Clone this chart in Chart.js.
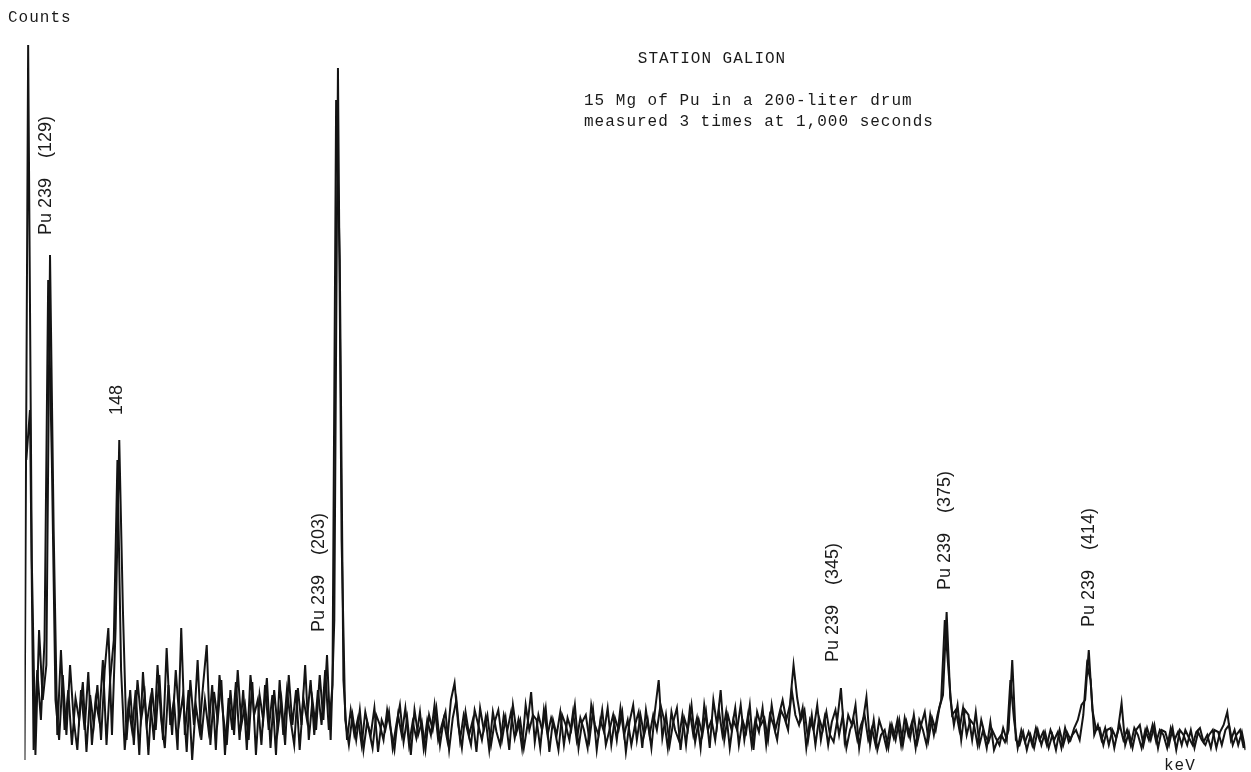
<!DOCTYPE html>
<html>
<head>
<meta charset="utf-8">
<title>Station Galion</title>
<script src="https://cdn.jsdelivr.net/npm/chart.js@4"></script>
<style>
html,body{margin:0;padding:0;background:#fff;}
#wrap{position:relative;width:1251px;height:772px;}
</style>
</head>
<body>
<div id="wrap"><canvas id="spec"></canvas></div>
<script>
// ══════════════════════════════════════════
// DADOS DO ESPECTRO (1 keV por canal, duas passagens sobrepostas)
// ══════════════════════════════════════════
const kevStart1=122, kevStart2=122.5;
const counts1=[
  0,715,200,5,130,60,95,505,230,25,
  110,30,70,15,62,40,78,8,65,35,
  75,20,90,132,25,132,320,150,20,70,
  15,80,40,65,5,72,30,85,20,112,
  35,60,10,132,25,70,0,55,30,75,
  115,15,68,40,80,5,62,30,78,20,
  70,10,85,45,60,15,75,30,65,5,
  80,25,70,40,15,72,35,95,20,60,
  30,85,40,105,20,140,692,220,40,15,
  45,20,50,10,38,25,52,8,40,30,
  48,12,35,55,18,42,5,50,25,38,
  10,45,30,52,15,40,20,60,77,35,
  12,48,25,40,8,52,30,45,15,38,
  50,20,42,10,55,28,40,12,35,68,
  18,45,30,52,8,40,25,48,15,42,
  30,55,12,38,45,20,50,10,40,28,
  52,15,42,30,48,8,38,55,20,45,
  25,40,12,50,80,22,45,15,38,52,
  10,42,30,55,18,40,25,48,12,60,
  35,70,20,45,30,52,15,40,28,55,
  10,48,35,42,20,55,30,45,60,40,
  55,95,62,40,50,20,45,15,42,30,
  48,25,18,40,72,20,45,35,55,12,
  38,63,15,40,10,25,30,12,35,20,
  40,15,38,22,45,18,35,48,20,42,
  30,52,65,148,62,35,55,20,50,45,
  20,48,15,30,12,38,10,20,25,18,
  30,100,20,15,28,10,25,12,30,15,
  28,12,25,10,30,15,28,20,32,40,
  55,60,110,50,30,32,15,30,32,12,
  30,57,15,28,12,30,35,15,32,20,
  35,12,30,28,15,32,10,30,25,15,
  30,12,28,20,15,25,30,12,28,35,
  48,20,30,15,28,10
];
const counts2=[
  300,350,10,90,40,120,480,300,60,20,
  85,25,95,40,10,70,30,88,15,60,
  40,100,15,80,120,300,90,10,55,30,
  70,5,88,35,60,20,95,40,12,75,
  25,90,40,65,8,80,35,100,20,60,
  30,75,10,85,45,15,70,25,90,35,
  55,20,78,5,65,40,82,12,70,30,
  60,15,85,35,70,10,62,40,80,25,
  70,35,90,30,75,660,500,80,20,50,
  25,42,15,48,30,12,45,35,20,50,
  30,10,45,25,52,15,38,22,48,12,
  40,25,55,20,35,48,10,42,60,20,
  45,30,15,50,35,20,42,10,48,28,
  15,45,30,48,22,40,12,55,30,45,
  40,12,50,25,42,30,10,45,35,20,
  48,20,42,30,12,55,35,25,50,15,
  30,45,20,52,25,40,15,35,48,12,
  50,25,45,30,55,40,12,48,30,20,
  45,15,50,25,42,12,55,30,40,20,
  50,25,48,12,40,30,55,20,45,15,
  40,28,52,15,45,35,20,50,42,30,
  70,45,35,52,12,40,30,55,20,42,
  15,38,50,25,45,12,30,40,20,35,
  45,20,32,15,40,28,12,35,22,40,
  15,42,25,38,12,40,30,15,45,25,
  45,60,140,90,45,50,30,52,25,40,
  35,15,40,25,18,30,22,15,32,20,
  80,40,12,30,18,28,15,32,20,28,
  15,30,20,28,12,32,18,25,30,20,
  45,95,80,25,35,20,32,15,30,22,
  35,20,30,15,32,25,12,30,20,35,
  18,30,25,12,32,20,28,15,30,22,
  15,28,32,18,25,12,30,28,15,30,
  35,15,25,30,12
];

// rótulos de pico (texto, keV, contagem onde o texto termina em baixo)
const peakLabels=['Pu 239    (129)','148','Pu 239    (203)','Pu 239    (345)','Pu 239    (375)','Pu 239    (414)'];
const peakKev=[127.9,147.4,202.8,343.8,374.5,414.2];
const peakBase=[525,345,128,98,170,133];

const titleLines=['STATION GALION','15 Mg of Pu in a 200-liter drum','measured 3 times at 1,000 seconds'];
const yAxisLabel='Counts', xAxisLabel='keV';

const pts=(start,arr)=>arr.map((v,i)=>({x:start+i,y:v}));

// ══════════════════════════════════════════
// TEXTOS SOBRE O GRÁFICO
// ══════════════════════════════════════════
const textPlugin={
  id:'textos',
  afterDatasetsDraw(chart){
    const c=chart.ctx,sx=chart.scales.x,sy=chart.scales.y;
    c.save();
    c.fillStyle='#1a1a1a';
    c.font='16px "Liberation Mono", monospace';
    c.letterSpacing='1px';
    c.textBaseline='alphabetic';
    c.textAlign='left';
    c.fillText(yAxisLabel,8,22);
    c.fillText(xAxisLabel,1164,770);
    c.textAlign='center';
    c.fillText(titleLines[0],712,63);
    c.textAlign='left';
    c.fillText(titleLines[1],584,105);
    c.fillText(titleLines[2],584,126);
    // rótulos verticais
    c.font='18px "Liberation Sans", Arial, sans-serif';
    c.letterSpacing='0px';
    c.textBaseline='middle';
    peakLabels.forEach((t,i)=>{
      c.save();
      c.translate(sx.getPixelForValue(peakKev[i]),sy.getPixelForValue(peakBase[i]));
      c.rotate(-Math.PI/2);
      c.textAlign='left';
      c.fillText(t,0,0);
      c.restore();
    });
    c.restore();
  }
};

const lineStyle={borderColor:'#141414',borderWidth:2,pointRadius:0,fill:false,tension:0};

new Chart(document.getElementById('spec'),{
  type:'line',
  data:{datasets:[
    {data:pts(kevStart1,counts1),...lineStyle},
    {data:pts(kevStart2,counts2),...lineStyle}
  ]},
  options:{responsive:true,maintainAspectRatio:false,animation:false,
    layout:{padding:{left:24.5,right:5.5,top:40,bottom:12}},
    plugins:{legend:{display:false},tooltip:{enabled:false}},
    scales:{
      x:{type:'linear',min:122,max:457,display:false},
      y:{min:0,max:720,display:false}
    }},
  plugins:[textPlugin]
});
</script>
</body>
</html>
